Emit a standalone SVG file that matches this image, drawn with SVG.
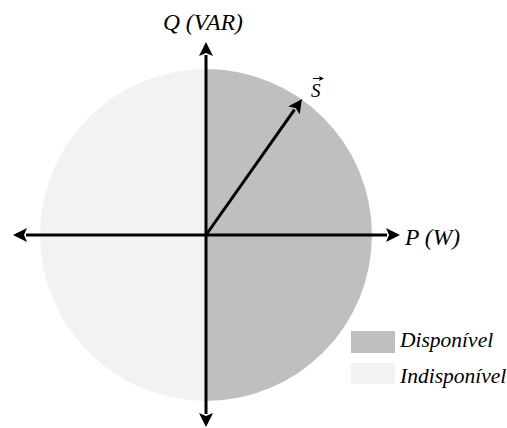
<svg xmlns="http://www.w3.org/2000/svg" width="507" height="428" viewBox="0 0 507 428">
<style>
text{font-family:"Liberation Serif","Times New Roman",serif;font-style:italic;fill:#000}
.axl{font-size:23.5px}
.leg{font-size:21.5px}
.ax{stroke:#000;stroke-width:3;fill:none}
</style>
<defs>
<marker id="ah" markerUnits="userSpaceOnUse" markerWidth="14" markerHeight="14" viewBox="0 0 14 14" refX="1" refY="7" orient="auto">
<path d="M0,0 L14,7 L0,14 L3,7 Z" fill="#000"/>
</marker>
</defs>
<g id="circle">
<path d="M206,69 A166,166 0 0 0 206,401 Z" fill="#f2f2f2"/>
<path d="M206,69 A166,166 0 0 1 206,401 Z" fill="#bfbfbf"/>
</g>
<g id="connectors">
<line class="ax" x1="206" y1="235" x2="206" y2="55" marker-end="url(#ah)"/>
<line class="ax" x1="206" y1="235" x2="206" y2="414" marker-end="url(#ah)"/>
<line class="ax" x1="206" y1="235" x2="26" y2="235" marker-end="url(#ah)"/>
<line class="ax" x1="206" y1="235" x2="387" y2="235" marker-end="url(#ah)"/>
<line class="ax" x1="206" y1="235" x2="294.5" y2="109.6" marker-end="url(#ah)"/>
</g>
<g id="label-q"><text class="axl" x="163" y="30">Q (VAR)</text></g>
<g id="label-p"><text class="axl" x="405" y="245">P (W)</text></g>
<g id="label-s">
<text x="311" y="97" font-size="19">S</text>
<path d="M313,78.5 H321" stroke="#000" stroke-width="1"/>
<path d="M324,78.5 L319,76 L320,78.5 L319,81 Z" fill="#000"/>
</g>
<g id="legend-disponivel">
<rect x="351" y="331" width="44" height="22" fill="#bfbfbf"/>
<text class="leg" x="400" y="347">Disponível</text>
</g>
<g id="legend-indisponivel">
<rect x="351" y="363" width="44" height="21" fill="#f2f2f2"/>
<text class="leg" x="400" y="383">Indisponível</text>
</g>
</svg>
